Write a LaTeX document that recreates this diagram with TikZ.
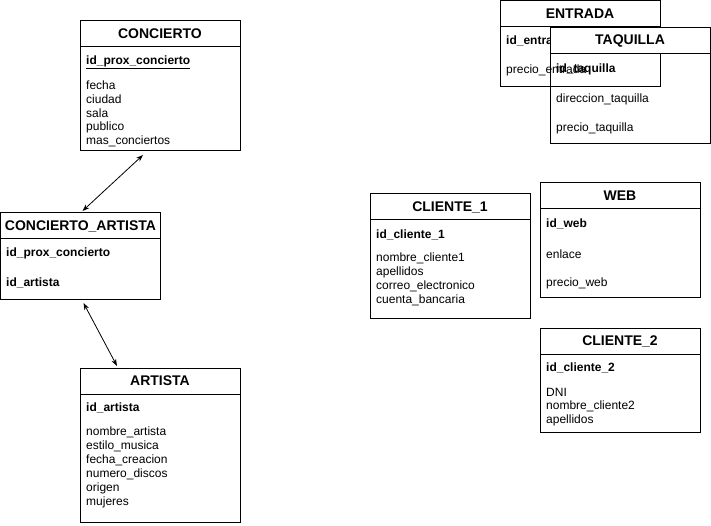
\documentclass[tikz,border=0pt]{standalone}
\usepackage{fontspec}
\setmainfont{Liberation Sans}
\usetikzlibrary{arrows.meta}
\tikzset{
 tbody/.style={draw=black, line width=1pt, anchor=north west, minimum width=160pt, inner sep=0pt, outer sep=0pt},
 thead/.style={draw=black, fill=white, line width=1pt, anchor=north west, minimum width=160pt, minimum height=26pt, inner sep=0pt, outer sep=0pt, font=\fontsize{14}{16}\selectfont\bfseries},
 attr/.style={anchor=west, inner sep=0pt, yshift=-1pt, font=\fontsize{12}{14}\selectfont},
 key/.style={anchor=west, inner sep=0pt, yshift=-1pt, font=\fontsize{12}{14}\selectfont\bfseries},
 rel/.style={line width=0.8pt, {Stealth[length=7pt,width=5pt]}-{Stealth[length=7pt,width=5pt]}},
}
\begin{document}
\begin{tikzpicture}[x=1pt,y=-1pt]
\useasboundingbox (0,0) rectangle (711,526);
% CONCIERTO
\node[tbody, minimum height=130pt] (concierto) at (80,21) {};
\node[thead] (conciertoH) at (80,21) {CONCIERTO};
\node[key] (c0) at (86,61) {\underline{id\_prox\_concierto}};
\node[attr] (c1) at (86,84) {fecha};
\node[attr] (c2) at (86,98) {ciudad};
\node[attr] (c3) at (86,112) {sala};
\node[attr] (c4) at (86,126) {publico};
\node[attr] (c5) at (86,140) {mas\_conciertos};
% CONCIERTO_ARTISTA
\node[tbody, minimum height=86pt] (ca) at (0.5,213) {};
\node[thead] (caH) at (0.5,213) {CONCIERTO\_ARTISTA};
\node[key] (ca0) at (6,252) {id\_prox\_concierto};
\node[key] (ca1) at (6,282) {id\_artista};
% ARTISTA
\node[tbody, minimum height=154pt] (artista) at (80,368) {};
\node[thead] (artistaH) at (80,368) {ARTISTA};
\node[key] (a0) at (86,407) {id\_artista};
\node[attr] (a1) at (86,431) {nombre\_artista};
\node[attr] (a2) at (86,445) {estilo\_musica};
\node[attr] (a3) at (86,459) {fecha\_creacion};
\node[attr] (a4) at (86,473) {numero\_discos};
\node[attr] (a5) at (86,487) {origen};
\node[attr] (a6) at (86,501) {mujeres};
% ENTRADA
\node[tbody, minimum height=86pt] (entrada) at (500,0.5) {};
\node[thead] (entradaH) at (500,0.5) {ENTRADA};
\node[key] (e0) at (506,40) {id\_entrada};
\node[attr] (e1) at (506,69) {precio\_entrada};
% TAQUILLA
\node[tbody, minimum height=116pt] (taquilla) at (550,28) {};
\node[thead] (taquillaH) at (550,28) {TAQUILLA};
\node[key] (t0) at (556,68) {id\_taquilla};
\node[attr] (t1) at (556,98) {direccion\_taquilla};
\node[attr] (t2) at (556,127) {precio\_taquilla};
% CLIENTE_1
\node[tbody, minimum height=124pt] (cl1) at (370,194) {};
\node[thead] (cl1H) at (370,194) {CLIENTE\_1};
\node[key] (k0) at (376,234) {id\_cliente\_1};
\node[attr] (k1) at (376,257) {nombre\_cliente1};
\node[attr] (k2) at (376,271) {apellidos};
\node[attr] (k3) at (376,285) {correo\_electronico};
\node[attr] (k4) at (376,299) {cuenta\_bancaria};
% WEB
\node[tbody, minimum height=114pt] (web) at (540,183) {};
\node[thead] (webH) at (540,183) {WEB};
\node[key] (w0) at (546,223) {id\_web};
\node[attr] (w1) at (546,253) {enlace};
\node[attr] (w2) at (546,282) {precio\_web};
% CLIENTE_2
\node[tbody, minimum height=104pt] (cl2) at (540,328) {};
\node[thead] (cl2H) at (540,328) {CLIENTE\_2};
\node[key] (m0) at (546,367) {id\_cliente\_2};
\node[attr] (m1) at (546,391) {DNI};
\node[attr] (m2) at (546,405) {nombre\_cliente2};
\node[attr] (m3) at (546,419) {apellidos};
% connectors
\draw[rel] ([xshift=-17pt,yshift=-4pt]concierto.south) -- ([xshift=2pt,yshift=2pt]caH.north);
\draw[rel] ([xshift=3pt,yshift=-4pt]ca.south) -- ([xshift=-43pt,yshift=2pt]artistaH.north);
\end{tikzpicture}
\end{document}
